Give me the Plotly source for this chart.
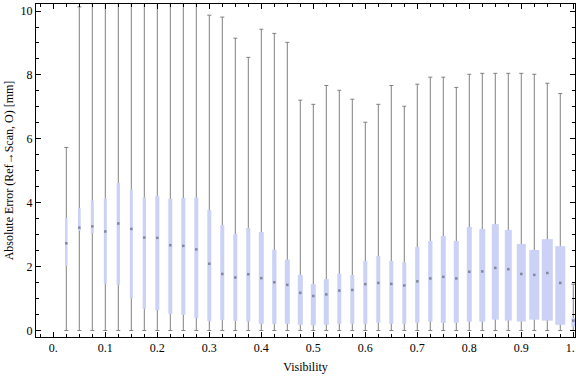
import plotly.graph_objects as go

# ---- data ----
visibility = [0.025, 0.05, 0.075, 0.1, 0.125, 0.15, 0.175, 0.2, 0.225, 0.25,
              0.275, 0.3, 0.325, 0.35, 0.375, 0.4, 0.425, 0.45, 0.475, 0.5,
              0.525, 0.55, 0.575, 0.6, 0.625, 0.65, 0.675, 0.7, 0.725, 0.75,
              0.775, 0.8, 0.825, 0.85, 0.875, 0.9, 0.925, 0.95, 0.975, 1.0]

whisker_low = [0.0, 0.0, 0.0, 0.0, 0.0, 0.0, 0.0, 0.0, 0.0, 0.0,
               0.0, 0.0, 0.0, 0.0, 0.0, 0.0, 0.0, 0.0, 0.0, 0.0,
               0.0, 0.0, 0.0, 0.0, 0.0, 0.0, 0.0, 0.0, 0.0, 0.0,
               0.0, 0.0, 0.0, 0.0, 0.0, 0.0, 0.0, 0.0, 0.0, 0.0]

q1 = [2.02, 3.12, 3.04, 1.47, 1.43, 1.01, 0.68, 0.64, 0.52, 0.49,
      0.39, 0.30, 0.33, 0.30, 0.28, 0.21, 0.21, 0.21, 0.18, 0.16,
      0.18, 0.21, 0.21, 0.21, 0.24, 0.21, 0.21, 0.24, 0.28, 0.24,
      0.24, 0.28, 0.28, 0.34, 0.31, 0.28, 0.34, 0.31, 0.18, 0.12]

median = [2.73, 3.22, 3.26, 3.10, 3.35, 3.18, 2.91, 2.90, 2.67, 2.65,
          2.54, 2.09, 1.77, 1.66, 1.76, 1.64, 1.51, 1.43, 1.18, 1.08,
          1.13, 1.25, 1.27, 1.45, 1.49, 1.46, 1.41, 1.54, 1.63, 1.68,
          1.63, 1.84, 1.85, 1.96, 1.92, 1.77, 1.74, 1.80, 1.49, 0.31]

q3 = [3.53, 3.83, 4.07, 4.14, 4.62, 4.42, 4.17, 4.22, 4.12, 4.15,
      4.16, 3.77, 3.30, 3.02, 3.21, 3.08, 2.53, 2.22, 1.74, 1.45,
      1.61, 1.78, 1.74, 2.18, 2.33, 2.18, 2.14, 2.61, 2.80, 2.96,
      2.80, 3.24, 3.18, 3.33, 3.15, 2.71, 2.52, 2.86, 2.64, 0.39]

whisker_high = [5.73, 10.13, 10.24, 10.6, 10.6, 10.6, 10.24, 10.6, 10.6, 10.6,
                10.6, 9.87, 9.81, 9.15, 8.55, 9.43, 9.30, 9.02, 7.21, 7.08,
                7.67, 7.52, 7.24, 6.52, 7.08, 7.67, 7.02, 7.71, 7.93, 7.93,
                7.61, 8.02, 8.05, 8.05, 8.05, 8.05, 8.02, 7.74, 7.42, 1.45]

# ---- styles ----
box_width_px = [2.4, 2.7, 3, 3, 3.3, 3, 3.3, 4, 4, 4,
                4, 4, 4, 4, 4, 5, 4.3, 5, 5, 5,
                5, 4, 4, 4, 4, 4, 4, 4.3, 4.3, 5,
                5, 5, 6, 7, 7, 9, 10, 11, 10, 4]
PX_PER_UNIT = 520.0
BOX_COLOR = "#cbd2f5"
WHISKER_COLOR = "#808080"
FONT = "'Liberation Serif', 'Times New Roman', 'DejaVu Serif', serif"

whisker_len = [h - l for h, l in zip(whisker_high, whisker_low)]
box_len = [b - a for a, b in zip(q1, q3)]
box_width = [w / PX_PER_UNIT for w in box_width_px]

fig = go.Figure()

# whiskers (drawn as error bars of an invisible bar, so boxes can sit on top)
fig.add_trace(go.Bar(
    x=visibility, base=whisker_low, y=whisker_len,
    width=0.001, marker=dict(color="rgba(0,0,0,0)", line=dict(width=0)),
    error_y=dict(type="data", symmetric=False,
                 array=[0.0] * len(visibility), arrayminus=whisker_len,
                 color=WHISKER_COLOR, thickness=1, width=2),
    hoverinfo="skip", showlegend=False,
))

# boxes (Q1..Q3)
fig.add_trace(go.Bar(
    x=visibility, base=q1, y=box_len, width=box_width,
    marker=dict(color=BOX_COLOR, line=dict(width=0)),
    showlegend=False,
))

# medians
fig.add_trace(go.Scatter(
    x=visibility, y=median, mode="markers",
    marker=dict(symbol="square", size=2.5, color="rgba(120,120,140,0.85)",
                line=dict(width=0)),
    showlegend=False,
))

xt = [0, 0.1, 0.2, 0.3, 0.4, 0.5, 0.6, 0.7, 0.8, 0.9, 1.0]
xt_text = ["0.", "0.1", "0.2", "0.3", "0.4", "0.5", "0.6", "0.7", "0.8", "0.9",
           "1.\u00a0\u00a0"]
yt = [0, 2, 4, 6, 8, 10]
yt_text = ["0", "2", "4", "6", "8", "10"]

fig.update_layout(
    width=576, height=377,
    margin=dict(l=36, r=1, t=4, b=40, autoexpand=False),
    paper_bgcolor="white", plot_bgcolor="white",
    barmode="overlay",
    font=dict(family=FONT, size=12, color="black"),
    xaxis=dict(
        range=[-0.0333, 1.0033], showgrid=False, zeroline=False,
        showline=True, linecolor="black", linewidth=1, mirror="ticks",
        ticks="inside", ticklen=5, tickcolor="black", tickwidth=1,
        tickvals=xt, ticktext=xt_text, ticklabeloverflow="allow",
        minor=dict(dtick=0.025, tick0=0, ticks="inside", ticklen=3,
                   tickcolor="black", tickwidth=1),
        title=dict(text="Visibility", standoff=8, font=dict(size=12)),
        tickfont=dict(size=12), automargin=False,
    ),
    yaxis=dict(
        range=[-0.203, 10.22], showgrid=False, zeroline=False,
        showline=True, linecolor="black", linewidth=1, mirror="ticks",
        ticks="inside", ticklen=5, tickcolor="black", tickwidth=1,
        tickvals=yt, ticktext=yt_text, ticklabeloverflow="allow",
        minor=dict(dtick=0.5, tick0=0, ticks="inside", ticklen=3,
                   tickcolor="black", tickwidth=1),
        title=dict(text="Absolute Error (Ref\u2192Scan, O) [mm]", standoff=4,
                   font=dict(size=12)),
        tickfont=dict(size=12), automargin=False,
    ),
)

fig.write_html(
    "out.html",
    config={"displayModeBar": False},
    post_script="document.body.style.margin='0';document.body.style.padding='0';",
)
